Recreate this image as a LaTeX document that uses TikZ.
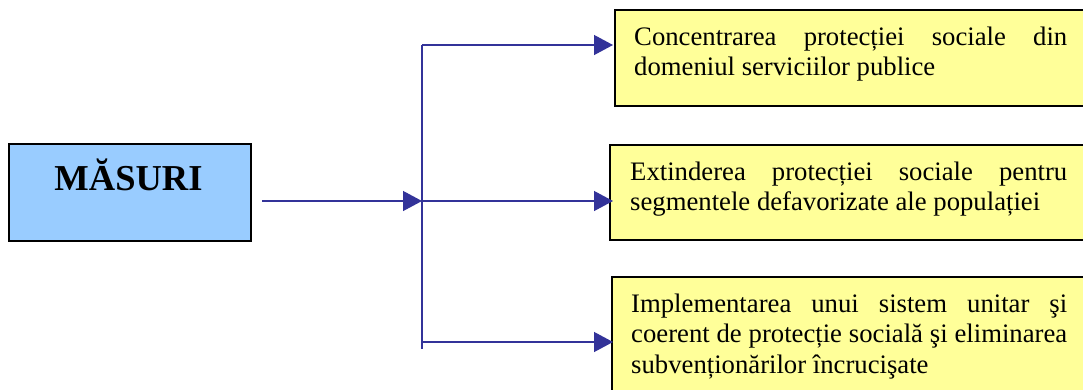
\documentclass[tikz,border=0pt]{standalone}
\usepackage{fontspec}
\setmainfont{Liberation Serif}
\usetikzlibrary{arrows.meta,calc}

\definecolor{linkblue}{HTML}{333399}
\definecolor{boxyellow}{HTML}{FFFF99}
\definecolor{boxblue}{HTML}{99CCFF}

% text set in the boxes: no hyphenation
\newcommand{\itemfont}{\fontsize{26.7}{30.5}\selectfont
  \hyphenpenalty=10000\relax\exhyphenpenalty=10000\relax}

\begin{document}
\begin{tikzpicture}[x=1pt,y=-1pt,
  mainbox/.style={draw=black, line width=1.6pt, fill=boxblue, inner sep=0pt,
    minimum width=242pt, minimum height=97pt, anchor=north west},
  itembox/.style={draw=black, line width=1.6pt, fill=boxyellow, inner sep=0pt,
    anchor=north west},
  itemtext/.style={anchor=north west, inner sep=0pt, align=justify,
    font=\itemfont},
  link/.style={draw=linkblue, line width=1.3pt},
  linkarrow/.style={link, -{Triangle[length=19pt,width=20pt]}}
]
\useasboundingbox (0,0) rectangle (1083,389);

% left box
\node[mainbox] (masuri) at (8,143) {};
\node[anchor=base, inner sep=0pt, font=\fontsize{36.5}{40}\selectfont\bfseries]
  (masuritxt) at (128.5,190) {MĂSURI};

% right boxes
\node[itembox, minimum width=480pt, minimum height=96pt] (b1) at (614,9) {};
\node[itembox, minimum width=480pt, minimum height=95pt] (b2) at (609,144) {};
\node[itembox, minimum width=480pt, minimum height=130pt] (b3) at (611,276) {};

\node[itemtext, text width=433pt] (t1) at (634,23.65)
  {\strut Concentrarea protecției sociale din\linebreak domeniul serviciilor publice};
\node[itemtext, text width=437pt] (t2) at (630,158.65)
  {\strut Extinderea protecției sociale pentru\linebreak segmentele defavorizate ale populației};
\node[itemtext, text width=436pt] (t3) at (631,290.65)
  {\strut Implementarea unui sistem unitar şi\linebreak coerent de protecție socială şi eliminarea\linebreak subvenționărilor încrucişate};

% connector junctions
\coordinate (mstart) at (262,201);
\coordinate (jtop) at (422,45);
\coordinate (jmid) at (422,201);
\coordinate (jlow) at (422,342);
\coordinate (jend) at (422,349);

% trunk and branches
\draw[link] (jtop) -- (jend);
\draw[linkarrow] (mstart) -- (jmid);
\draw[linkarrow] (jtop) -- ([xshift=-1pt]b1.west |- jtop);
\draw[linkarrow] (jmid) -- ([xshift=4pt]b2.west |- jmid);
\draw[linkarrow] (jlow) -- ([xshift=2pt]b3.west |- jlow);
\end{tikzpicture}
\end{document}
